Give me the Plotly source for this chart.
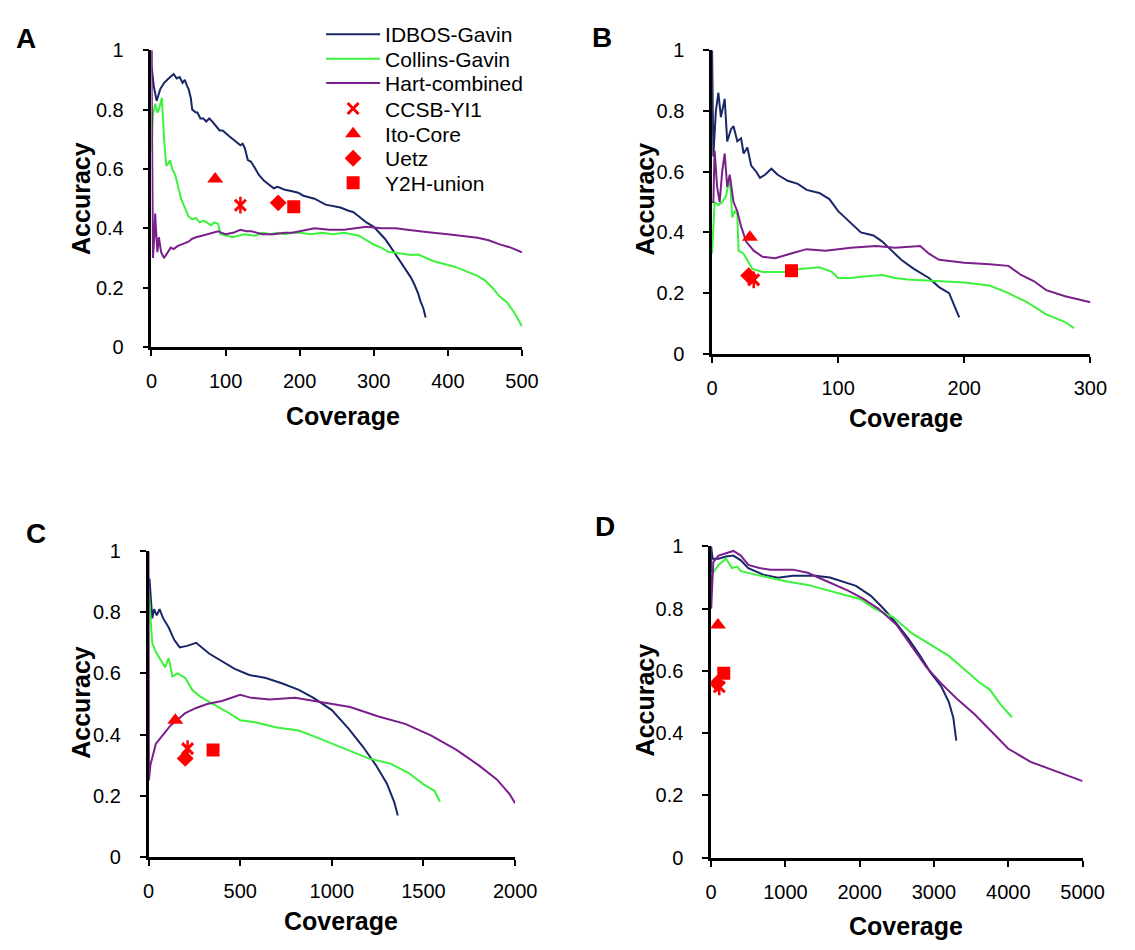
import plotly.graph_objects as go

# page is 1135x950; the browser body has an 8px margin, so the figure is 1119x934
PAGE_MARGIN = 8
W, H = 1135 - 2 * PAGE_MARGIN, 950 - 2 * PAGE_MARGIN

# ---------------- data ----------------
# Panel A
A_idbos_x = [0, 0, 3, 7, 12, 17, 21, 26, 30, 34, 38, 42, 45, 48, 50, 53, 55, 60, 62, 66, 70, 74, 78, 82, 85, 92, 96, 100, 105, 110, 115, 120, 123, 126, 130, 134, 138, 145, 152, 160, 165, 170, 180, 190, 198, 205, 212, 220, 235, 245, 255, 265, 272, 280, 290, 300, 308, 315, 322, 330, 337, 343, 350, 355, 360, 363, 367, 370]
A_idbos_y = [1.0, 0.95, 0.88, 0.83, 0.87, 0.89, 0.90, 0.91, 0.92, 0.905, 0.91, 0.89, 0.90, 0.88, 0.87, 0.84, 0.80, 0.79, 0.79, 0.77, 0.77, 0.76, 0.77, 0.76, 0.75, 0.73, 0.73, 0.72, 0.71, 0.70, 0.69, 0.68, 0.685, 0.67, 0.63, 0.625, 0.61, 0.58, 0.56, 0.545, 0.535, 0.54, 0.53, 0.525, 0.52, 0.51, 0.505, 0.50, 0.48, 0.475, 0.47, 0.46, 0.455, 0.44, 0.42, 0.405, 0.385, 0.365, 0.34, 0.31, 0.28, 0.26, 0.235, 0.21, 0.18, 0.155, 0.13, 0.10]
A_collins_x = [0, 2, 5, 8, 10, 14, 17, 20, 23, 25, 28, 32, 35, 40, 45, 50, 55, 60, 65, 70, 75, 80, 85, 90, 93, 100, 110, 125, 140, 150, 160, 170, 180, 190, 200, 215, 230, 245, 260, 270, 280, 290, 300, 310, 320, 330, 340, 350, 360, 370, 380, 395, 410, 425, 440, 450, 460, 470, 480, 490, 500]
A_collins_y = [0.66, 0.78, 0.82, 0.79, 0.80, 0.84, 0.70, 0.61, 0.62, 0.63, 0.60, 0.58, 0.55, 0.50, 0.47, 0.44, 0.43, 0.435, 0.42, 0.425, 0.42, 0.41, 0.42, 0.415, 0.38, 0.375, 0.37, 0.38, 0.375, 0.385, 0.38, 0.385, 0.38, 0.385, 0.385, 0.38, 0.385, 0.38, 0.385, 0.38, 0.375, 0.36, 0.345, 0.335, 0.32, 0.318, 0.315, 0.31, 0.312, 0.30, 0.29, 0.28, 0.27, 0.255, 0.24, 0.225, 0.20, 0.17, 0.15, 0.115, 0.07]
A_hart_x = [0, 1, 2, 4, 5, 6, 8, 10, 13, 17, 22, 26, 30, 35, 40, 45, 50, 55, 60, 68, 75, 82, 90, 95, 100, 110, 120, 128, 135, 150, 165, 180, 190, 200, 210, 220, 230, 240, 260, 275, 290, 310, 330, 345, 360, 380, 400, 420, 440, 455, 470, 485, 500]
A_hart_y = [1.0, 0.5, 0.30, 0.38, 0.45, 0.40, 0.32, 0.37, 0.32, 0.30, 0.32, 0.335, 0.33, 0.34, 0.345, 0.35, 0.355, 0.365, 0.37, 0.375, 0.38, 0.385, 0.39, 0.385, 0.38, 0.385, 0.395, 0.39, 0.39, 0.38, 0.38, 0.385, 0.385, 0.39, 0.395, 0.40, 0.398, 0.395, 0.395, 0.40, 0.405, 0.40, 0.40, 0.395, 0.39, 0.385, 0.38, 0.375, 0.368, 0.36, 0.346, 0.335, 0.319]

# Panel B
B_idbos_x = [0, 1, 3, 5, 7, 10, 12, 15, 17, 20, 23, 25, 28, 31, 35, 38, 42, 47, 52, 60, 68, 75, 85, 93, 100, 108, 118, 128, 135, 140, 150, 160, 172, 180, 188, 193, 196]
B_idbos_y = [1.0, 0.65, 0.80, 0.86, 0.78, 0.84, 0.70, 0.74, 0.75, 0.70, 0.71, 0.66, 0.68, 0.62, 0.60, 0.58, 0.59, 0.61, 0.59, 0.57, 0.56, 0.54, 0.53, 0.51, 0.47, 0.44, 0.40, 0.39, 0.37, 0.35, 0.31, 0.28, 0.25, 0.22, 0.20, 0.15, 0.12]
B_collins_x = [0, 2, 5, 8, 11, 14, 16, 18, 20, 21, 25, 28, 32, 40, 50, 60, 70, 85, 95, 100, 110, 120, 135, 145, 155, 175, 200, 210, 220, 235, 250, 265, 280, 287]
B_collins_y = [0.33, 0.50, 0.49, 0.50, 0.52, 0.58, 0.45, 0.47, 0.46, 0.34, 0.33, 0.31, 0.28, 0.27, 0.27, 0.27, 0.28, 0.285, 0.27, 0.25, 0.25, 0.255, 0.26, 0.25, 0.245, 0.24, 0.235, 0.23, 0.225, 0.20, 0.17, 0.13, 0.105, 0.085]
B_hart_x = [0, 1, 2, 4, 6, 8, 10, 12, 14, 17, 20, 23, 27, 33, 40, 50, 62, 75, 90, 110, 130, 145, 165, 172, 180, 200, 220, 235, 245, 255, 265, 280, 300]
B_hart_y = [0.5, 0.5, 0.67, 0.55, 0.5, 0.6, 0.66, 0.55, 0.59, 0.50, 0.47, 0.42, 0.37, 0.34, 0.32, 0.315, 0.33, 0.345, 0.34, 0.35, 0.355, 0.35, 0.355, 0.33, 0.31, 0.30, 0.295, 0.29, 0.26, 0.24, 0.21, 0.19, 0.17]

# Panel C
C_idbos_x = [0, 5, 20, 30, 45, 60, 80, 110, 140, 170, 210, 260, 330, 400, 470, 550, 640, 730, 820, 900, 1000, 1090, 1170, 1240, 1300, 1340, 1360]
C_idbos_y = [0.8, 0.91, 0.78, 0.81, 0.79, 0.81, 0.78, 0.75, 0.71, 0.685, 0.69, 0.70, 0.665, 0.64, 0.615, 0.595, 0.585, 0.567, 0.546, 0.52, 0.48, 0.42, 0.36, 0.30, 0.24, 0.18, 0.135]
C_collins_x = [0, 20, 40, 60, 90, 110, 130, 160, 200, 240, 280, 350, 420, 500, 580, 700, 820, 920, 1000, 1100, 1200, 1320, 1420, 1500, 1560, 1590]
C_collins_y = [0.88, 0.70, 0.67, 0.65, 0.62, 0.65, 0.59, 0.60, 0.585, 0.545, 0.525, 0.50, 0.477, 0.447, 0.44, 0.423, 0.413, 0.39, 0.37, 0.347, 0.322, 0.305, 0.274, 0.237, 0.216, 0.18]
C_hart_x = [0, 2, 10, 40, 80, 120, 180, 200, 260, 320, 400, 500, 560, 660, 800, 900, 1000, 1100, 1250, 1400, 1540, 1680, 1800, 1900, 1970, 2000]
C_hart_y = [1.0, 0.25, 0.30, 0.37, 0.40, 0.43, 0.46, 0.47, 0.487, 0.50, 0.51, 0.53, 0.52, 0.515, 0.52, 0.51, 0.50, 0.49, 0.46, 0.435, 0.397, 0.35, 0.30, 0.253, 0.205, 0.175]

# Panel D
D_idbos_x = [0, 0, 20, 100, 200, 300, 400, 500, 700, 900, 1100, 1400, 1600, 1750, 1950, 2150, 2300, 2450, 2650, 2800, 2950, 3100, 3200, 3260, 3300]
D_idbos_y = [0.8, 1.0, 0.96, 0.96, 0.967, 0.97, 0.955, 0.93, 0.909, 0.899, 0.905, 0.905, 0.90, 0.888, 0.873, 0.841, 0.805, 0.765, 0.705, 0.653, 0.596, 0.549, 0.50, 0.45, 0.376]
D_collins_x = [10, 100, 200, 280, 350, 400, 600, 800, 1000, 1300, 1600, 1800, 2000, 2200, 2450, 2700, 2950, 3200, 3450, 3600, 3750, 3900, 4050]
D_collins_y = [0.91, 0.94, 0.96, 0.93, 0.935, 0.92, 0.909, 0.899, 0.888, 0.876, 0.857, 0.846, 0.831, 0.80, 0.773, 0.721, 0.684, 0.648, 0.596, 0.565, 0.54, 0.491, 0.451]
D_hart_x = [0, 30, 100, 250, 300, 400, 500, 650, 800, 1100, 1300, 1450, 1650, 1850, 2050, 2250, 2500, 2700, 2900, 3100, 3300, 3550, 3800, 4000, 4300, 4650, 5000]
D_hart_y = [0.8, 0.95, 0.97, 0.982, 0.985, 0.97, 0.94, 0.93, 0.925, 0.925, 0.915, 0.899, 0.878, 0.857, 0.831, 0.80, 0.747, 0.679, 0.611, 0.559, 0.512, 0.46, 0.397, 0.35, 0.308, 0.277, 0.246]

# Y2H datasets (one point per panel A, B, C, D)
ccsb_x = [120, 33, 213, 110]
ccsb_y = [0.478, 0.244, 0.354, 0.549]
ito_x = [86, 30, 146, 92]
ito_y = [0.566, 0.384, 0.447, 0.747]
uetz_x = [171, 29, 200, 80]
uetz_y = [0.486, 0.258, 0.322, 0.56]
y2h_x = [192, 63, 352, 170]
y2h_y = [0.473, 0.274, 0.349, 0.592]

panel_letters = ["A", "B", "C", "D"]
x_max = [500, 300, 2000, 5000]
x_ticks = [[0, 100, 200, 300, 400, 500], [0, 100, 200, 300],
           [0, 500, 1000, 1500, 2000], [0, 1000, 2000, 3000, 4000, 5000]]
y_ticks = [0, 0.2, 0.4, 0.6, 0.8, 1]
y_ticktext = ["0", "0.2", "0.4", "0.6", "0.8", "1"]

line_names = ["IDBOS-Gavin", "Collins-Gavin", "Hart-combined"]
point_names = ["CCSB-YI1", "Ito-Core", "Uetz", "Y2H-union"]

# ---------------- styling ----------------
FONT = "Arial, 'Liberation Sans', sans-serif"
NAVY = "#1a2766"
GREEN = "#3df23d"
PURPLE = "#7a1f8c"
RED = "#ff0000"


def fx(px):
    return (px - PAGE_MARGIN) / W


def fy(py):
    return 1 - (py - PAGE_MARGIN) / H


# plot-area page-pixel boxes (left, right, top, bottom)
boxes = [(149, 529, 40, 344), (724, 1112, 40, 351), (146, 522, 553, 866), (723, 1104, 548, 867)]
letter_pos = [(20, 28), (611, 27), (31, 535), (614, 528)]
acc_pos = [(76, 192), (655, 192), (76, 708), (655, 705)]
cov_pos = [(345, 415), (923, 417), (343, 932), (923, 937)]

lines_data = [
    [(A_idbos_x, A_idbos_y), (A_collins_x, A_collins_y), (A_hart_x, A_hart_y)],
    [(B_idbos_x, B_idbos_y), (B_collins_x, B_collins_y), (B_hart_x, B_hart_y)],
    [(C_idbos_x, C_idbos_y), (C_collins_x, C_collins_y), (C_hart_x, C_hart_y)],
    [(D_idbos_x, D_idbos_y), (D_collins_x, D_collins_y), (D_hart_x, D_hart_y)],
]
line_colors = [NAVY, GREEN, PURPLE]
points = [(ccsb_x, ccsb_y), (ito_x, ito_y), (uetz_x, uetz_y), (y2h_x, y2h_y)]
point_symbols = ["x-thin-open", "triangle-up", "diamond", "square"]
point_sizes = [11, 14, 13, 13]

fig = go.Figure()
legend_rows = [24, 49, 74, 100, 126, 151, 176]

for p in range(4):
    xa = "x" if p == 0 else f"x{p+1}"
    ya = "y" if p == 0 else f"y{p+1}"
    for k in range(3):
        xs, ys = lines_data[p][k]
        fig.add_trace(go.Scatter(
            x=xs, y=ys, mode="lines", name=line_names[k],
            line=dict(color=line_colors[k], width=2),
            xaxis=xa, yaxis=ya, showlegend=(p == 0),
            legend="legend" if k == 0 else f"legend{k+1}",
            hoverinfo="skip"))

for p in range(4):
    xa = "x" if p == 0 else f"x{p+1}"
    ya = "y" if p == 0 else f"y{p+1}"
    for k in range(4):
        px_, py_ = points[k]
        sym = point_symbols[k]
        if sym == "x-thin-open":
            mk = dict(symbol=sym, size=point_sizes[k], color=RED, line=dict(color=RED, width=3))
        else:
            mk = dict(symbol=sym, size=point_sizes[k], color=RED, line=dict(width=0))
        fig.add_trace(go.Scatter(
            x=[px_[p]], y=[py_[p]], mode="markers", name=point_names[k],
            marker=mk, xaxis=xa, yaxis=ya, showlegend=(p == 0),
            legend=f"legend{k+4}", hoverinfo="skip"))
        if sym == "x-thin-open":
            fig.add_trace(go.Scatter(
                x=[px_[p]], y=[py_[p]], mode="markers", showlegend=False,
                marker=dict(symbol="line-ns-open", size=point_sizes[k] + 1, color=RED,
                            line=dict(color=RED, width=2.5)),
                xaxis=xa, yaxis=ya, hoverinfo="skip"))

layout = dict(
    width=W, height=H, margin=dict(l=0, r=0, t=0, b=0),
    paper_bgcolor="white", plot_bgcolor="white",
    font=dict(family=FONT, color="black", size=20),
    annotations=[],
)

for p in range(4):
    l, r, t, b = boxes[p]
    xname = "xaxis" if p == 0 else f"xaxis{p+1}"
    yname = "yaxis" if p == 0 else f"yaxis{p+1}"
    xa = "x" if p == 0 else f"x{p+1}"
    ya = "y" if p == 0 else f"y{p+1}"
    layout[xname] = dict(
        domain=[fx(l), fx(r)], range=[0, x_max[p]], anchor=ya,
        tickvals=x_ticks[p], showgrid=False, zeroline=False,
        showline=True, linecolor="black", linewidth=2.5,
        ticks="outside", ticklen=6, tickwidth=2, tickcolor="black",
        tickfont=dict(size=20, family=FONT), ticklabelstandoff=8)
    layout[yname] = dict(
        domain=[fy(b), fy(t)], range=[0, 1], anchor=xa,
        tickvals=y_ticks, ticktext=y_ticktext, showgrid=False, zeroline=False,
        showline=True, linecolor="black", linewidth=2.5,
        ticks="outside", ticklen=6, tickwidth=2, tickcolor="black",
        tickfont=dict(size=20, family=FONT), ticklabelstandoff=15)
    lx, lyy = letter_pos[p]
    layout["annotations"].append(dict(
        text=f"<b>{panel_letters[p]}</b>", x=fx(lx), y=fy(lyy), xref="paper", yref="paper",
        showarrow=False, xanchor="center", yanchor="middle", font=dict(size=28, family=FONT)))
    ax_, ay_ = acc_pos[p]
    layout["annotations"].append(dict(
        text="<b>Accuracy</b>", x=fx(ax_), y=fy(ay_), xref="paper", yref="paper",
        showarrow=False, xanchor="center", yanchor="middle", textangle=-90,
        font=dict(size=25, family=FONT)))
    cx_, cy_ = cov_pos[p]
    layout["annotations"].append(dict(
        text="<b>Coverage</b>", x=fx(cx_), y=fy(cy_), xref="paper", yref="paper",
        showarrow=False, xanchor="center", yanchor="middle",
        font=dict(size=25, family=FONT)))

for i, rowy in enumerate(legend_rows):
    key = "legend" if i == 0 else f"legend{i+1}"
    layout[key] = dict(
        x=fx(323), y=fy(rowy - 21), xanchor="left", yanchor="top",
        bgcolor="rgba(0,0,0,0)", borderwidth=0, itemwidth=54,
        font=dict(size=21, family=FONT, color="black"))

fig.update_layout(**layout)
fig.write_html("out.html")
